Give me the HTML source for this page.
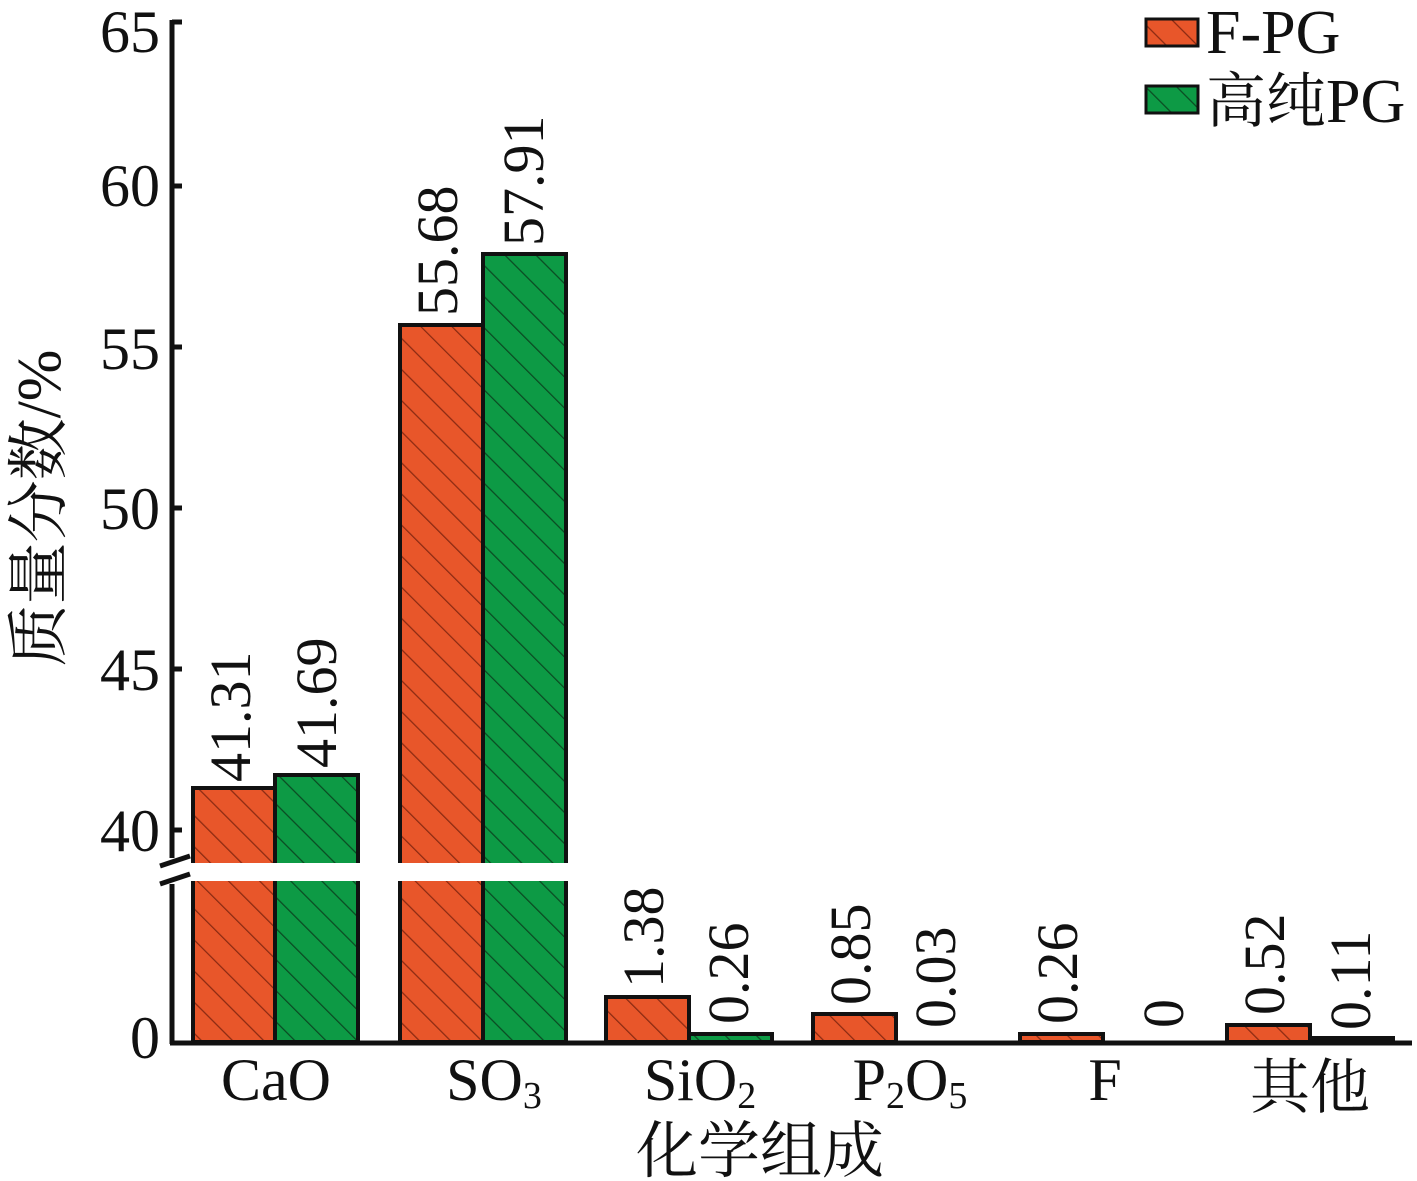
<!DOCTYPE html>
<html><head><meta charset="utf-8"><style>body{margin:0;background:#fff}svg{display:block}</style></head><body>
<svg width="1417" height="1181" viewBox="0 0 1417 1181" xmlns="http://www.w3.org/2000/svg" font-family="'Liberation Serif','Noto Serif CJK SC',serif">
<defs>
<pattern id="ho" patternUnits="userSpaceOnUse" width="22" height="22" patternTransform="rotate(-45)"><rect width="22" height="22" fill="#e8562a"/><line x1="0" y1="0" x2="0" y2="22" stroke="#8a2a12" stroke-width="2.5"/></pattern>
<pattern id="hg" patternUnits="userSpaceOnUse" width="22" height="22" patternTransform="rotate(-45)"><rect width="22" height="22" fill="#0d9a45"/><line x1="0" y1="0" x2="0" y2="22" stroke="#0b4a22" stroke-width="2.5"/></pattern>
</defs>
<g stroke="#111" stroke-width="4">
<rect x="193" y="788" width="82" height="254" fill="url(#ho)"/>
<rect x="275" y="775" width="83" height="267" fill="url(#hg)"/>
<rect x="400" y="325" width="83" height="717" fill="url(#ho)"/>
<rect x="483" y="254" width="83" height="788" fill="url(#hg)"/>
<rect x="606" y="997" width="83" height="45" fill="url(#ho)"/>
<rect x="689" y="1034" width="83" height="8" fill="url(#hg)"/>
<rect x="813" y="1014" width="83" height="28" fill="url(#ho)"/>
<rect x="1020" y="1034" width="83" height="8" fill="url(#ho)"/>
<rect x="1227" y="1025" width="83" height="17" fill="url(#ho)"/>
<rect x="1310" y="1038" width="83" height="4" fill="url(#hg)"/>
</g>
<rect x="150" y="863" width="430" height="18" fill="#fff"/>
<g stroke="#111" stroke-width="5" fill="none">
<line x1="172" y1="20" x2="172" y2="858"/>
<line x1="172" y1="884" x2="172" y2="1044"/>
<line x1="170" y1="1043" x2="1412" y2="1043"/>
<line x1="160" y1="866" x2="190" y2="856"/>
<line x1="160" y1="884" x2="190" y2="874"/>
</g>
<g stroke="#111" stroke-width="5">
<line x1="172" y1="22" x2="182" y2="22"/><line x1="172" y1="186" x2="182" y2="186"/><line x1="172" y1="347" x2="182" y2="347"/><line x1="172" y1="508" x2="182" y2="508"/><line x1="172" y1="669" x2="182" y2="669"/><line x1="172" y1="830" x2="182" y2="830"/>
</g>
<g font-size="60" text-anchor="end" fill="#111">
<text x="160" y="52">65</text><text x="160" y="206">60</text><text x="160" y="369">55</text><text x="160" y="529">50</text><text x="160" y="690">45</text><text x="160" y="851">40</text><text x="160" y="1058">0</text>
</g>
<g font-size="58" fill="#111">
<g transform="translate(250,782) rotate(-90)"><text>41.31</text></g>
<g transform="translate(336,768) rotate(-90)"><text>41.69</text></g>
<g transform="translate(457,316) rotate(-90)"><text>55.68</text></g>
<g transform="translate(543,246) rotate(-90)"><text>57.91</text></g>
<g transform="translate(663,988) rotate(-90)"><text>1.38</text></g>
<g transform="translate(748,1024) rotate(-90)"><text>0.26</text></g>
<g transform="translate(870,1005) rotate(-90)"><text>0.85</text></g>
<g transform="translate(955,1028) rotate(-90)"><text>0.03</text></g>
<g transform="translate(1077,1024) rotate(-90)"><text>0.26</text></g>
<g transform="translate(1183,1028) rotate(-90)"><text>0</text></g>
<g transform="translate(1284,1015) rotate(-90)"><text>0.52</text></g>
<g transform="translate(1370,1030) rotate(-90)"><text>0.11</text></g>
</g>
<g font-size="60" fill="#111" text-anchor="middle">
<text x="276" y="1100">CaO</text>
<text x="494" y="1100">SO<tspan font-size="38" dy="8">3</tspan></text>
<text x="700" y="1100">SiO<tspan font-size="38" dy="8">2</tspan></text>
<text x="910" y="1100">P<tspan font-size="38" dy="8">2</tspan><tspan dy="-8">O</tspan><tspan font-size="38" dy="8">5</tspan></text>
<text x="1105" y="1100">F</text>
<text x="1310" y="1108" font-family="'Noto Serif CJK SC',serif" font-size="60">其他</text>
<text x="760" y="1172" font-family="'Noto Serif CJK SC',serif" font-size="62">化学组成</text>
</g>
<g transform="translate(60,508) rotate(-90)"><text font-family="'Liberation Serif','Noto Serif CJK SC',serif" font-size="62" text-anchor="middle" fill="#111">质量分数/%</text></g>
<rect x="1146" y="19" width="52" height="27" fill="url(#ho)" stroke="#111" stroke-width="3"/>
<rect x="1146" y="86" width="52" height="27" fill="url(#hg)" stroke="#111" stroke-width="3"/>
<text x="1206" y="53" font-size="62" fill="#111">F-PG</text>
<text x="1206" y="122" font-size="62" fill="#111"><tspan font-family="'Noto Serif CJK SC',serif" font-size="60">高纯</tspan>PG</text>
</svg>
</body></html>
